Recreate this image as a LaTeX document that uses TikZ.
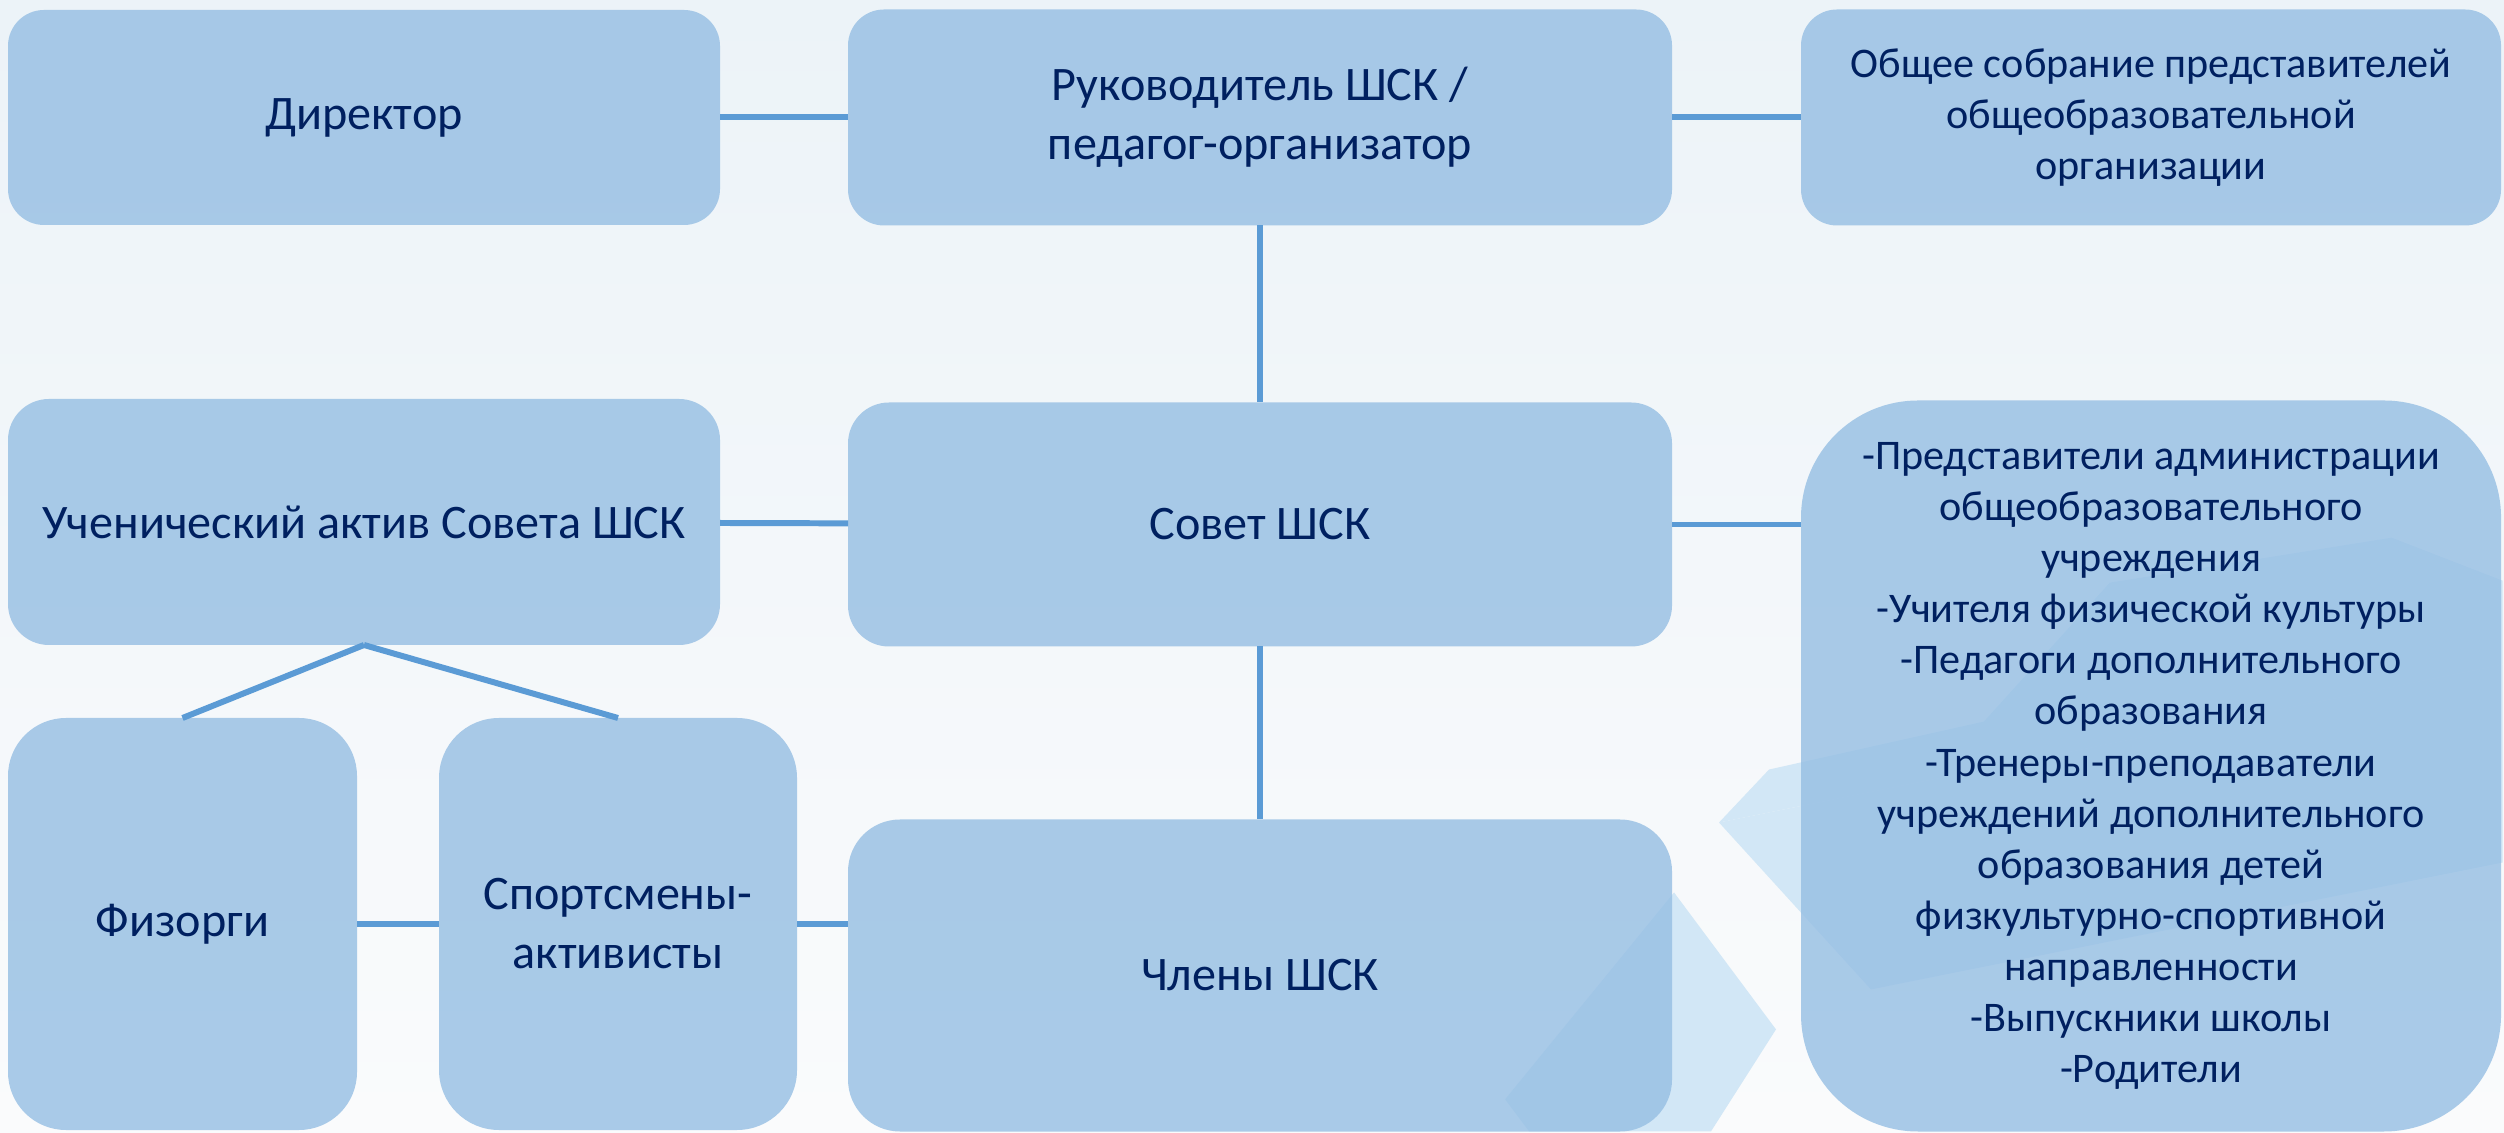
\documentclass[tikz,border=0pt]{standalone}
\usepackage{fontspec}
\setmainfont{Carlito}
\usetikzlibrary{positioning,calc}
\definecolor{boxblue}{RGB}{149,190,227}
\definecolor{linkblue}{RGB}{91,155,213}
\definecolor{navy}{RGB}{0,32,96}
\definecolor{paleblue}{RGB}{210,231,246}
\definecolor{bgtop}{RGB}{236,243,248}
\definecolor{bgbottom}{RGB}{250,251,252}

\begin{document}
\begin{tikzpicture}[align=center, text=navy,
    unit/.style={fill=boxblue, fill opacity=0.8, text opacity=1, outer sep=0pt, inner sep=2pt, font=\fontsize{13.7}{16.8}\selectfont},
    smalltext/.style={font=\fontsize{12}{14.55}\selectfont},
    link/.style={draw=linkblue, line width=1.7pt}]

    \fill [top color=bgtop, bottom color=bgbottom] (0,0) rectangle (25.04,11.32);
    \useasboundingbox (0,0) rectangle (25.04,11.32);

    % background figures, in pixels of the slide
    \begin{scope}[shift={(0,11.32)}, x=0.01cm, y=-0.01cm]
        \fill [paleblue] (1506,1100) -- (1675,893) -- (1777,1030) -- (1712,1132) -- (1530,1132) -- cycle;
        \fill [paleblue] (1720,823) -- (2504,665) -- (2504,863) -- (1872,990) -- cycle;
        \fill [paleblue] (1770,770) -- (1985,722) -- (2111,583) -- (2393,538) -- (2504,581) -- (2504,665) -- (1720,823) -- cycle;
    \end{scope}

    \node [unit, rounded corners=0.36cm, minimum width=7.12cm, minimum height=2.15cm, anchor=north west] (director) at (0.08,11.22) {Директор};
    \node [unit, rounded corners=0.36cm, right=1.28cm of director, minimum width=8.24cm, minimum height=2.16cm] (head) {Руководитель ШСК /\\педагог-организатор};
    \node [unit, smalltext, rounded corners=0.36cm, right=1.29cm of head, minimum width=7cm, minimum height=2.16cm] (assembly) {Общее собрание представителей\\общеобразовательной\\организации};

    \node [unit, rounded corners=0.41cm, below=1.74cm of director, minimum width=7.12cm, minimum height=2.46cm] (pupils) {Ученический актив Совета ШСК};
    \node [unit, rounded corners=0.41cm, below=1.77cm of head, minimum width=8.24cm, minimum height=2.44cm] (council) {Совет ШСК};
    \node [unit, smalltext, rounded corners=1.17cm, below=1.75cm of assembly, minimum width=7cm, minimum height=7.31cm] (staff) {-Представители администрации\\общеобразовательного\\учреждения\\-Учителя физической культуры\\-Педагоги дополнительного\\образования\\-Тренеры-преподаватели\\учреждений дополнительного\\образования детей\\физкультурно-спортивной\\направленности\\-Выпускники школы\\-Родители};

    \node [unit, rounded corners=0.52cm, below=1.73cm of council, minimum width=8.24cm, minimum height=3.12cm] (members) {Члены ШСК};
    \node [unit, rounded corners=0.58cm, below right=0.73cm and 0cm of pupils.south west, minimum width=3.49cm, minimum height=4.12cm] (fizorgi) {Физорги};
    \node [unit, rounded corners=0.6cm, right=0.82cm of fizorgi, minimum width=3.58cm, minimum height=4.12cm] (athletes) {Спортсмены-\\активисты};

    \draw [link] (director) -- (head);
    \draw [link] (head) -- (assembly);
    \draw [link] (head) -- (council);
    \draw [link] (pupils) -- (council);
    \draw [link] (council.east) -- (council.east -| staff.west);
    \draw [link] (council) -- (members);
    \draw [link] (pupils.south) -- (fizorgi.north);
    \draw [link] (pupils.south) -- (athletes.north);
    \draw [link] (fizorgi) -- (athletes);
    \draw [link] (athletes.east) -- (athletes.east -| members.west);

\end{tikzpicture}
\end{document}
